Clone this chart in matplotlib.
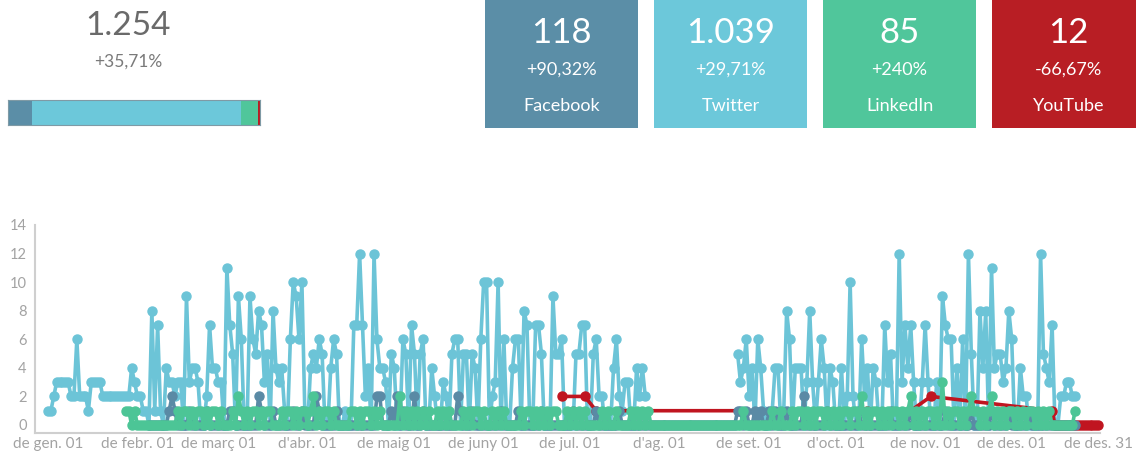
import numpy as np
import matplotlib
matplotlib.use("Agg")
import matplotlib.pyplot as plt
from matplotlib.patches import Rectangle

W, H = 1136, 453
FONT = ["Lato", "DejaVu Sans"]

# summary figures
platforms = ["Facebook", "Twitter", "LinkedIn", "YouTube"]
totals = [118, 1039, 85, 12]
changes = ["+90,32%", "+29,71%", "+240%", "-66,67%"]
total_change = "+35,71%"
box_colors = ["#5b8ea7", "#6cc8da", "#50c69b", "#b81e24"]
line_colors = ["#5a8aa5", "#6cc4d7", "#4cc596", "#c01520"]

month_ticks = [0, 31, 59, 90, 120, 151, 181, 212, 243, 273, 304, 334, 364]
month_labels = ["de gen. 01", "de febr. 01", "de març 01", "d'abr. 01", "de maig 01",
                "de juny 01", "de jul. 01", "d'ag. 01", "de set. 01", "d'oct. 01",
                "de nov. 01", "de des. 01", "de des. 31"]

N = None
# daily Twitter counts, one list per month
tw_jan = [1, 1, 2, 3, 3, 3, 3, 3, 2, 2, 6, 2, 2, 2, 1, 3, 3, 3, 3, 2, 2, 2, 2, 2, 2, 2, 2, 2, 2, 4, 3]
tw_feb = [2, 2, 1, 1, 0, 8, 1, 7, 1, 0, 4, 3, 3, 2, 3, 3, 0, 9, 3, 4, 4, 3, 0, 0, 2, 7, 4, 4]
tw_mar = [3, 3, 0, 11, 7, 5, 0, 9, 6, 0, 0, 9, 6, 5, 8, 7, 3, 5, 0, 8, 4, 3, 4, 1, 0, 6, 10, 9, 6, 10, 1]
tw_apr = [0, 4, 5, 4, 6, 5, 0, 0, 4, 6, 5, 0, 0, 1, 0, 0, 7, 7, 12, 7, 2, 4, 0, 12, 6, 4, 4, 3, 0, 5]
tw_may = [4, 0, 0, 6, 5, 0, 7, 5, 0, 5, 6, 0, 0, 4, 2, 0, 0, 3, 2, 0, 5, 6, 6, 0, 5, 5, 0, 5, 4, 0, 6]
tw_jun = [10, 10, 0, 2, 3, 10, 0, 6, 0, 0, 4, 6, 6, 0, 8, 7, 0, 0, 7, 7, 5, 0, 0, 0, 9, 5, 5, 6, 0, 0]
tw_jul = [0, 0, 5, 5, 7, 7, 0, 0, 5, 6, 2, 2, 0, 0, 0, 4, 6, 2, 1, 3, 3, 0, 0, 4, 2, 4, 2, N, N, N, N]
tw_aug = [N, N, N, N, N, N, N, N, N, N, N, N, N, N, N, N, N, N, N, N, N, N, N, N, N, N, N, 5, 3, 4, 6]
tw_sep = [2, 4, 0, 6, 4, 1, 0, 0, 1, 4, 4, 0, 1, 8, 6, 0, 4, 4, 4, 0, 3, 8, 3, 0, 3, 6, 4, 0, 4, 3]
tw_oct = [0, 0, 4, 0, 2, 10, 2, 0, 0, 6, 2, 4, 0, 4, 3, 0, 0, 7, 3, 5, 0, 0, 12, 3, 7, 4, 7, 3, 0, 0, 3]
tw_nov = [7, 3, 0, 0, 3, 0, 9, 7, 6, 6, 0, 4, 0, 6, 0, 12, 5, 0, 0, 8, 4, 8, 0, 11, 4, 5, 5, 3, 4, 8]
tw_dec = [6, 0, 0, 4, 2, 2, 0, 0, 0, 0, 12, 5, 4, 3, 7, 0, 0, 2, 2, 3, 3, 2, 2, N, N, N, N, N, N, N, N]

# Facebook: days with posts (0 otherwise between first and last day)
fb_range = (35, 356)
fb_days = [42, 43, 44, 49, 55, 63, 64, 73, 74, 78, 85, 88, 93, 94, 100, 114, 115, 119, 121, 123,
           127, 130, 142, 143, 147, 157, 163, 171, 182, 190, 198, 239, 240, 242, 245, 247, 250,
           252, 256, 262, 270, 281, 292, 299, 311, 320, 327, 333, 340]
fb_vals = [1, 2, 1, 1, 1, 1, 1, 2, 1, 1, 1, 1, 2, 1, 1, 2, 2, 1, 2, 1,
           2, 1, 2, 1, 1, 1, 1, 1, 1, 1, 1, 1, 1, 1, 1, 1, 1,
           1, 1, 2, 1, 1, 1, 1, 1, 1, 1, 1, 1]

# LinkedIn: days with one post, and days with more
li_range = (27, 356)
li_ones = [27, 28, 30, 45, 47, 48, 50, 52, 53, 55, 57, 58, 60, 64, 67, 69, 71, 72, 74, 76, 77,
           81, 83, 84, 86, 88, 89, 91, 94, 96, 97, 99, 105, 106, 108, 110, 111, 113, 115,
           124, 126, 128, 130, 132, 135, 137, 139, 144, 146, 148, 149, 151, 154, 156, 158,
           164, 166, 167, 169, 171, 173, 175, 176, 180, 182, 184, 186, 192, 194, 197,
           202, 204, 206, 208, 241, 251, 254, 258, 260, 261, 263, 265, 267, 268, 270,
           272, 274, 276, 277, 279, 280, 284, 286, 287, 289, 291, 293, 294, 296, 298, 301,
           303, 305, 306, 308, 312, 314, 315, 317, 319, 321, 322, 324, 326, 329, 331, 333,
           334, 336, 338, 340, 341, 343, 345, 347, 356]
li_peak_days = [66, 92, 122, 282, 299, 310, 320, 327]
li_peak_vals = [2, 2, 2, 2, 2, 3, 2, 2]

# YouTube: sparse days, joined across the gaps
yt_days = [178, 186, 190, 284, 299, 306, 348, 349, 350, 351, 352, 353, 354, 355, 356, 357,
           358, 359, 360, 361, 362, 363, 364]
yt_vals = [2, 2, 1, 1, 1, 2, 1, 0, 0, 0, 0, 0, 0, 0, 0, 0, 0, 0, 0, 0, 0, 0, 0]

twitter = np.array(tw_jan + tw_feb + tw_mar + tw_apr + tw_may + tw_jun + tw_jul + tw_aug
                   + tw_sep + tw_oct + tw_nov + tw_dec, dtype=float)
days = np.arange(len(twitter))

facebook = np.full(len(days), np.nan)
facebook[fb_range[0]:fb_range[1] + 1] = 0
facebook[fb_days] = fb_vals

linkedin = np.full(len(days), np.nan)
linkedin[li_range[0]:li_range[1] + 1] = 0
linkedin[li_ones] = 1
linkedin[li_peak_days] = li_peak_vals

fig = plt.figure(figsize=(W / 100, H / 100), dpi=100)
plt.rcParams["font.family"] = FONT


def px(x, y):
    return x / W, 1 - y / H


# left summary
grand = sum(totals)
fig.text(*px(128, 26), f"{grand:,}".replace(",", "."), ha="center", va="center",
         fontsize=24, color="#6a6a6a")
fig.text(*px(128, 62), total_change, ha="center", va="center", fontsize=12.5,
         color="#7a7a7a")

bar_ax = fig.add_axes([8 / W, 1 - 125 / H, 252 / W, 25 / H])
left = 0
for v, c in zip(totals, box_colors):
    bar_ax.barh(0, v, left=left, height=1, color=c, edgecolor="none")
    left += v
bar_ax.set_xlim(0, grand)
bar_ax.set_ylim(-0.5, 0.5)
for s in bar_ax.spines.values():
    s.set_color("#7f9aa5")
    s.set_linewidth(0.8)
bar_ax.set_xticks([])
bar_ax.set_yticks([])

# platform boxes
box_w, gap = 153, 16
for i, (name, tot, ch, c) in enumerate(zip(platforms, totals, changes, box_colors)):
    x0 = 485 + i * (box_w + gap)
    fig.add_artist(Rectangle(px(x0, 128), box_w / W, 128 / H, transform=fig.transFigure,
                             facecolor=c, edgecolor="none"))
    cx = x0 + box_w / 2
    fig.text(*px(cx, 33), f"{tot:,}".replace(",", "."), ha="center", va="center",
             fontsize=25, color="white")
    fig.text(*px(cx, 70), ch, ha="center", va="center", fontsize=13, color="white")
    fig.text(*px(cx, 106), name, ha="center", va="center", fontsize=13, color="white")

# daily time series
ax = fig.add_axes([35 / W, 20 / H, 1065 / W, 208 / H])
style = dict(lw=2.6, marker="o", ms=6.5, clip_on=False)
ax.plot(days, twitter, color=line_colors[1], zorder=2, **style)
ax.plot(yt_days, yt_vals, color=line_colors[3], zorder=3, **style)
ax.plot(days, facebook, color=line_colors[0], zorder=4, **style)
ax.plot(days, linkedin, color=line_colors[2], zorder=5, **style)

ax.set_xlim(-4.5, 364.6)
ax.set_ylim(-0.56, 14)
ax.set_yticks(range(0, 15, 2))
ax.set_xticks(month_ticks)
ax.set_xticklabels(month_labels)
ax.tick_params(length=0, labelsize=11, labelcolor="#a3a3a3")
ax.tick_params(axis="x", pad=3)
ax.tick_params(axis="y", pad=6, labelsize=10.5)
for s in ["top", "right"]:
    ax.spines[s].set_visible(False)
for s in ["left", "bottom"]:
    ax.spines[s].set_color("#cfcfcf")
    ax.spines[s].set_linewidth(1.5)

fig.savefig("out.png", dpi=100)
